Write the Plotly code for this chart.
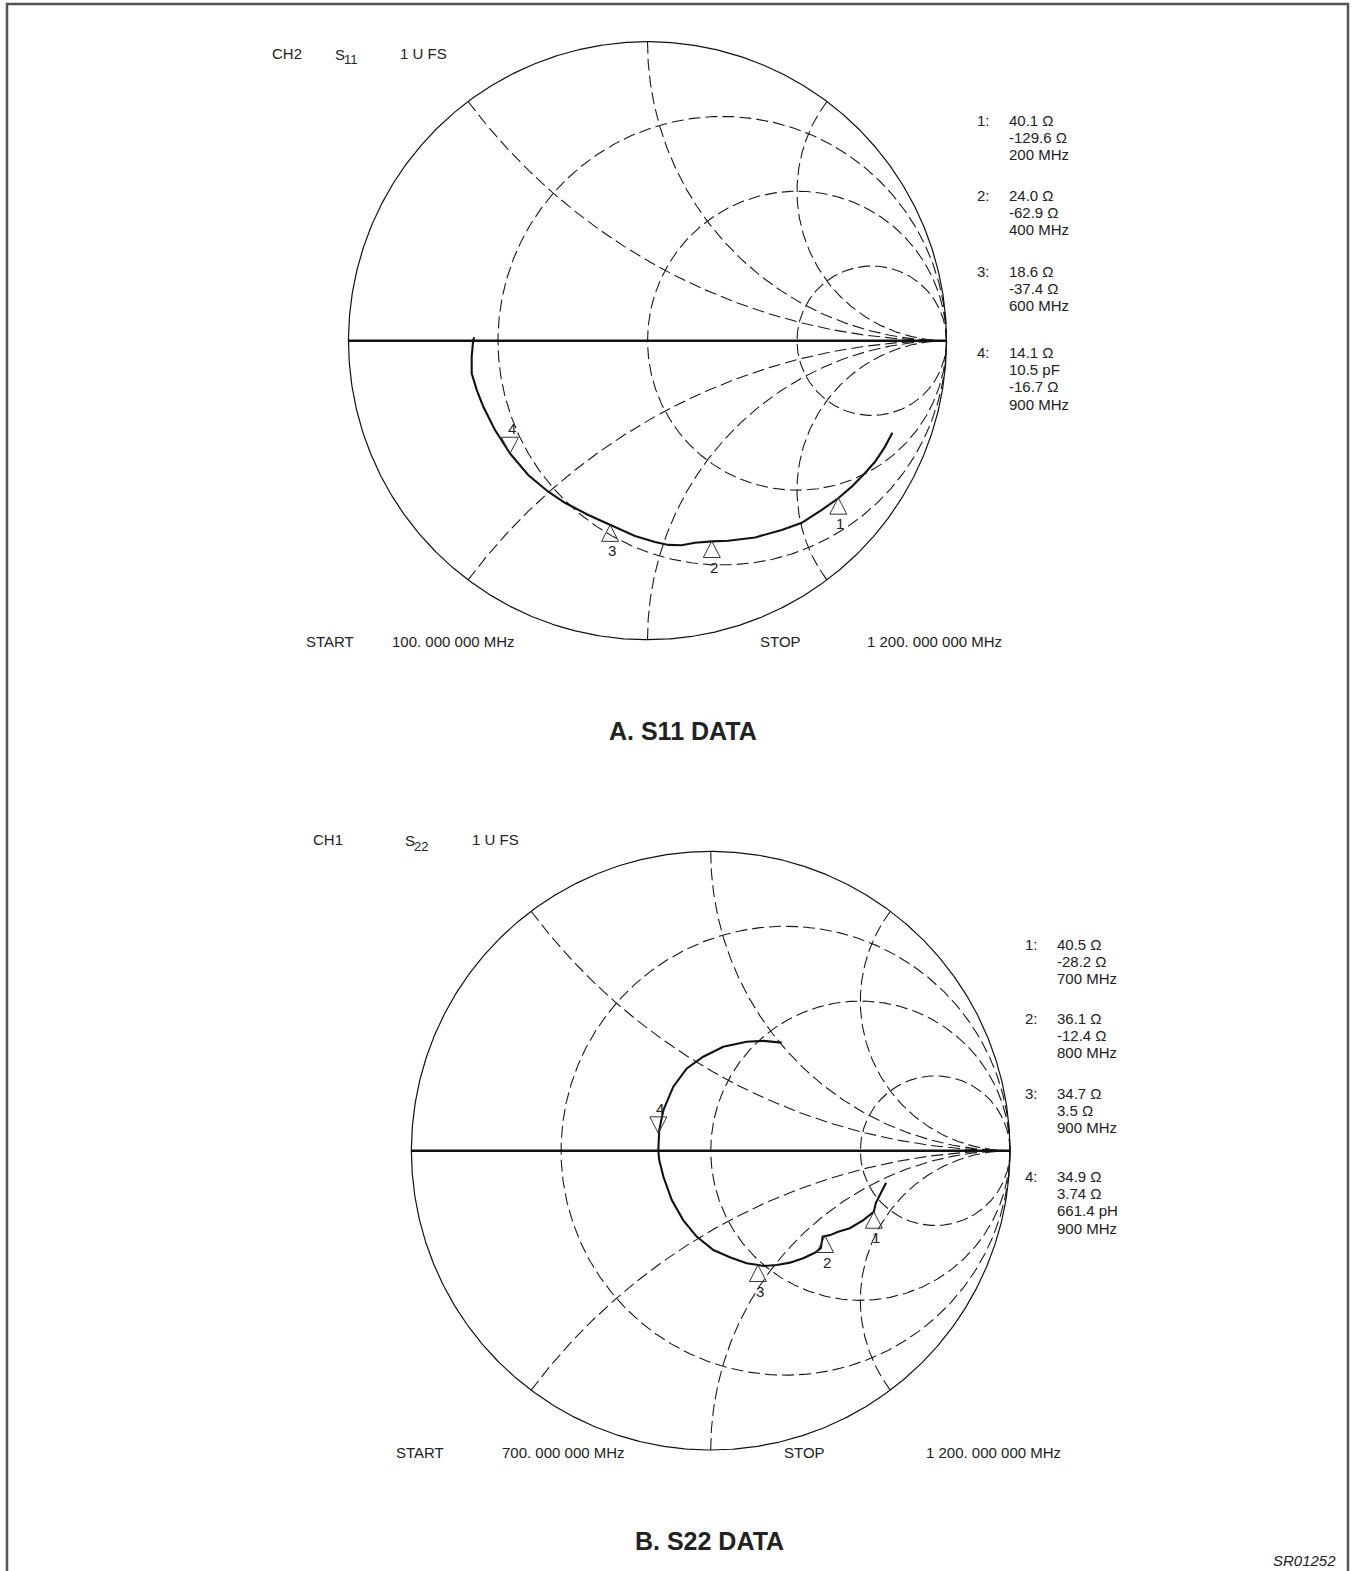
import numpy as np
import plotly.graph_objects as go

W, H = 1353, 1571
FONT = "Liberation Sans, Arial, Helvetica, sans-serif"

# ---------------- Smith chart graticule (normalised values) ----------------
R_GRID = [1 / 3, 1.0, 3.0]                   # constant-resistance circles
X_GRID = [0.5, 1.0, 2.0, -0.5, -1.0, -2.0]   # constant-reactance arcs

# ---------------- A. S11 trace (reflection coefficient, re / im) ----------------
S11_RE = [0.819, 0.794, 0.761, 0.727, 0.683, 0.638, 0.583, 0.516, 0.449, 0.360,
          0.270, 0.215, 0.159, 0.114, 0.070, 0.025, -0.042, -0.125, -0.198, -0.276,
          -0.332, -0.399, -0.460, -0.510, -0.549, -0.571, -0.588, -0.588, -0.583, -0.579]
S11_IM = [-0.308, -0.355, -0.405, -0.443, -0.488, -0.527, -0.566, -0.609, -0.633, -0.658,
          -0.669, -0.671, -0.676, -0.684, -0.683, -0.673, -0.653, -0.616, -0.583, -0.542,
          -0.505, -0.449, -0.377, -0.299, -0.221, -0.165, -0.109, -0.054, 0.002, 0.011]
S11_MK_RE = [0.638, 0.215, -0.125, -0.460]
S11_MK_IM = [-0.525, -0.670, -0.616, -0.378]
S11_MK_DIR = ["up", "up", "up", "down"]
S11_MK_LABEL = ["1", "2", "3", "4"]
S11_READOUT = [
    ["1:", "40.1 Ω", "-129.6 Ω", "200 MHz"],
    ["2:", "24.0 Ω", "-62.9 Ω", "400 MHz"],
    ["3:", "18.6 Ω", "-37.4 Ω", "600 MHz"],
    ["4:", "14.1 Ω", "10.5 pF", "-16.7 Ω", "900 MHz"],
]

# ---------------- B. S22 trace ----------------
S22_RE = [0.586, 0.568, 0.552, 0.545, 0.510, 0.465, 0.426, 0.399, 0.382, 0.374,
          0.368, 0.348, 0.309, 0.265, 0.221, 0.176, 0.159, 0.120, 0.064, 0.009,
          -0.047, -0.092, -0.130, -0.158, -0.172, -0.175, -0.172, -0.158, -0.125, -0.080,
          -0.025, 0.042, 0.120, 0.176, 0.237]
S22_IM = [-0.107, -0.142, -0.174, -0.204, -0.232, -0.259, -0.271, -0.282, -0.285, -0.287,
          -0.326, -0.341, -0.359, -0.374, -0.382, -0.385, -0.382, -0.376, -0.356, -0.332,
          -0.287, -0.232, -0.165, -0.087, -0.031, 0.000, 0.069, 0.136, 0.214, 0.275,
          0.314, 0.347, 0.364, 0.367, 0.361]
S22_MK_RE = [0.545, 0.382, 0.158, -0.175]
S22_MK_IM = [-0.204, -0.285, -0.382, 0.058]
S22_MK_DIR = ["up", "up", "up", "down"]
S22_MK_LABEL = ["1", "2", "3", "4"]
S22_READOUT = [
    ["1:", "40.5 Ω", "-28.2 Ω", "700 MHz"],
    ["2:", "36.1 Ω", "-12.4 Ω", "800 MHz"],
    ["3:", "34.7 Ω", "3.5 Ω", "900 MHz"],
    ["4:", "34.9 Ω", "3.74 Ω", "661.4 pH", "900 MHz"],
]

# ---------------- layout constants (pixels) ----------------
CHART_A = dict(cx=647.5, cy=340.7, r=299.0, xa="x", ya="y")
CHART_B = dict(cx=710.7, cy=1150.7, r=299.3, xa="x2", ya="y2")


def gamma(z):
    z = np.asarray(z, dtype=complex)
    return (z - 1) / (z + 1)


def px(x):
    return x / W


def py(y):
    return 1 - y / H


fig = go.Figure()

GRID_LINE = dict(color="#1a1a1a", width=1.1, dash="12px,5px")


def add_chart(ch, re, im):
    xa, ya = ch["xa"], ch["ya"]
    th = np.linspace(0, 2 * np.pi, 721)
    # resistance circles
    for r in R_GRID:
        c, a = r / (1 + r), 1 / (1 + r)
        fig.add_trace(go.Scatter(x=c + a * np.cos(th), y=a * np.sin(th), mode="lines",
                                 line=GRID_LINE, xaxis=xa, yaxis=ya, hoverinfo="skip"))
    # reactance arcs
    s = np.concatenate([np.linspace(0, 1, 200), np.logspace(0, 5, 400)])
    for xv in X_GRID:
        g = gamma(s + 1j * xv)
        fig.add_trace(go.Scatter(x=g.real, y=g.imag, mode="lines", line=GRID_LINE,
                                 xaxis=xa, yaxis=ya, hoverinfo="skip"))
    # outer circle (r = 0)
    fig.add_trace(go.Scatter(x=np.cos(th), y=np.sin(th), mode="lines",
                             line=dict(color="#111", width=1.2), xaxis=xa, yaxis=ya,
                             hoverinfo="skip"))
    # real axis (x = 0)
    g = gamma(np.array([0.0, 1e9]))
    fig.add_trace(go.Scatter(x=g.real, y=g.imag, mode="lines",
                             line=dict(color="#111", width=2.6), xaxis=xa, yaxis=ya,
                             hoverinfo="skip"))
    # measured trace
    fig.add_trace(go.Scatter(x=re, y=im, mode="lines",
                             line=dict(color="#111", width=2.1), xaxis=xa, yaxis=ya))


def add_markers(ch, mre, mim, mdir, mlab):
    xa, ya = ch["xa"], ch["ya"]
    for x, y, d, lab in zip(mre, mim, mdir, mlab):
        sgn = -1 if d == "up" else 1
        fig.add_shape(type="path", xref=xa, yref=ya, xsizemode="pixel", ysizemode="pixel",
                      xanchor=x, yanchor=y,
                      path=f"M0,0 L-8.5,{sgn * 16.5} L8.5,{sgn * 16.5} Z",
                      line=dict(color="#333", width=1), fillcolor="rgba(0,0,0,0)")
        fig.add_annotation(x=x, y=y, xref=xa, yref=ya, text=lab, showarrow=False,
                           xshift=2, yshift=(-26 if d == "up" else 25),
                           font=dict(family=FONT, size=15, color="#222"))


def txt(x, y, t, size=15, anchor="left", bold=False, italic=False):
    if bold:
        t = f"<b>{t}</b>"
    if italic:
        t = f"<i>{t}</i>"
    fig.add_annotation(x=px(x), y=py(y), xref="paper", yref="paper", text=t,
                       showarrow=False, xanchor=anchor, yanchor="middle",
                       font=dict(family=FONT, size=size, color="#222"))


def add_readout(blocks, x_lab, x_val, y_starts, step=17.4):
    for blk, y0 in zip(blocks, y_starts):
        txt(x_lab, y0, blk[0])
        for i, line in enumerate(blk[1:]):
            txt(x_val, y0 + i * step, line)


add_chart(CHART_A, S11_RE, S11_IM)
add_chart(CHART_B, S22_RE, S22_IM)
add_markers(CHART_A, S11_MK_RE, S11_MK_IM, S11_MK_DIR, S11_MK_LABEL)
add_markers(CHART_B, S22_MK_RE, S22_MK_IM, S22_MK_DIR, S22_MK_LABEL)

# headers
txt(270, 53, "CH2")
txt(333, 54, "S")
txt(342, 59, "11", size=13)
txt(398, 53, "1 U FS")
txt(311, 840, "CH1")
txt(403, 841, "S")
txt(412, 846, "22", size=13)
txt(470, 840, "1 U FS")

# readouts
add_readout(S11_READOUT, 975, 1007, [120, 195, 271, 352])
add_readout(S22_READOUT, 1023, 1055, [944, 1018, 1093, 1176])

# start / stop
txt(304, 641, "START")
txt(390, 641, "100. 000 000 MHz")
txt(758, 641, "STOP")
txt(865, 641, "1 200. 000 000 MHz")
txt(394, 1452, "START")
txt(500, 1452, "700. 000 000 MHz")
txt(782, 1452, "STOP")
txt(924, 1452, "1 200. 000 000 MHz")

# titles
txt(683, 731, "A. S11 DATA", size=25, anchor="center", bold=True)
txt(709, 1541, "B. S22 DATA", size=25, anchor="center", bold=True)
txt(1338, 1560, "SR01252", size=15, anchor="right", italic=True)

# frame
fig.add_shape(type="rect", xref="paper", yref="paper", x0=px(7), x1=px(1348),
              y0=py(1576), y1=py(4), line=dict(color="#555", width=2.5))


def axis_ranges(ch):
    xr = [(0 - ch["cx"]) / ch["r"], (W - ch["cx"]) / ch["r"]]
    yr = [-(H - ch["cy"]) / ch["r"], ch["cy"] / ch["r"]]
    return xr, yr


xrA, yrA = axis_ranges(CHART_A)
xrB, yrB = axis_ranges(CHART_B)
ax_common = dict(visible=False, showgrid=False, zeroline=False, fixedrange=True)

fig.update_layout(
    width=W, height=H, margin=dict(l=0, r=0, t=0, b=0),
    paper_bgcolor="white", plot_bgcolor="white", showlegend=False,
    xaxis=dict(range=xrA, domain=[0, 1], **ax_common),
    yaxis=dict(range=yrA, domain=[0, 1], **ax_common),
    xaxis2=dict(range=xrB, domain=[0, 1], overlaying="x", **ax_common),
    yaxis2=dict(range=yrB, domain=[0, 1], overlaying="y", **ax_common),
)

fig.write_html("out.html", config={"displayModeBar": False},
               post_script="document.body.style.margin='0px';")
